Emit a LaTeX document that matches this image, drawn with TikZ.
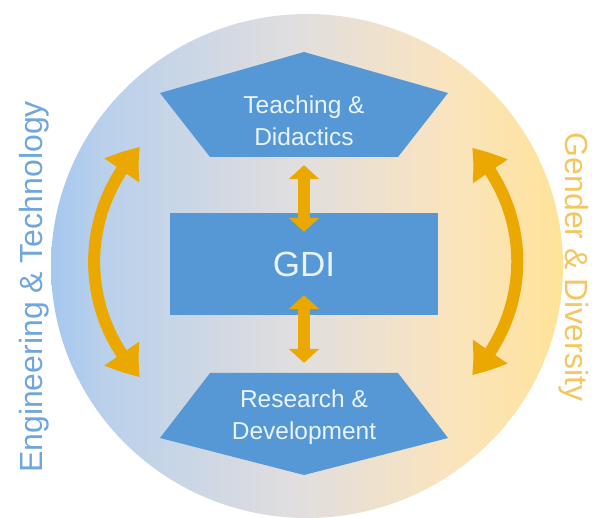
\documentclass[tikz,border=0pt]{standalone}
\usepackage{fontspec}
\setmainfont{Liberation Sans}
\usetikzlibrary{arrows.meta,bending}
\definecolor{gdiblue}{RGB}{86,151,214}
\definecolor{gdigold}{RGB}{234,168,0}
\definecolor{gdilight}{RGB}{232,244,255}
\definecolor{labelblue}{RGB}{112,166,222}
\definecolor{labelsand}{RGB}{244,198,96}
% disc tint: blue on the left, grey in the middle, sand on the right
\pgfdeclarehorizontalshading{gdiring}{100bp}{%
    rgb(0bp)=(0.647,0.780,0.933); rgb(25bp)=(0.647,0.780,0.933);
    rgb(30bp)=(0.725,0.816,0.922); rgb(49bp)=(0.882,0.871,0.871);
    rgb(64bp)=(0.980,0.894,0.745); rgb(75bp)=(1,0.890,0.600);
    rgb(100bp)=(1,0.890,0.600)}
\tikzset{
    gdi diagram/.style = {x=1pt, y=-1pt},
    ring/.style        = {shading=gdiring},
    panel/.style       = {fill=gdiblue},
    field/.style       = {text=gdilight, align=center,
                          font=\fontsize{24.5}{32}\selectfont},
    core/.style        = {fill=gdiblue, text=gdilight,
                          minimum width=268pt, minimum height=102pt,
                          font=\fontsize{35}{42}\selectfont},
    vlink/.style       = {draw=gdigold, line width=12pt,
                          {Triangle[width=30pt,length=14pt]}-{Triangle[width=30pt,length=14pt]}},
    swing/.style       = {draw=gdigold, line width=12pt,
                          {Triangle[width=40pt,length=30pt,bend]}-{Triangle[width=40pt,length=30pt,bend]}},
    side/.style        = {inner sep=0pt, font=\fontsize{32}{36}\selectfont}
}

\begin{document}
\begin{tikzpicture}[gdi diagram]
\useasboundingbox (0,0) rectangle (592,518);

% ================= Background disc =================
\shade[ring] (307,266) ellipse [x radius=256, y radius=252];

% ================= Side themes =================
\node[side, text=labelblue, rotate=90] (eng) at (34,287) {Engineering \& Technology};
\node[side, text=labelsand, rotate=-90] (gender) at (574,267) {Gender \& Diversity};

\coordinate (etTop) at (140,147);
\coordinate (etBot) at (140,377);
\coordinate (gdTop) at (472,148);
\coordinate (gdBot) at (472,375);
\draw[swing] (etBot) to[bend left=43] (etTop);
\draw[swing] (gdBot) to[bend right=43] (gdTop);

% ================= Teaching, core and research blocks =================
\fill[panel] (304,52) -- (448,93) -- (398,157) -- (210,157) -- (160,93) -- cycle;
\node[field, minimum height=72pt] (teach) at (304,121) {Teaching \&\\Didactics};

\node[core] (gdi) at (304,264) {GDI};

\fill[panel] (210,373) -- (398,373) -- (448,438) -- (304,475) -- (160,438) -- cycle;
\node[field, minimum height=88pt] (research) at (304,417) {Research \&\\Development};

% ================= Links to the core =================
\draw[vlink] ([yshift=-8pt]teach.south) -- ([yshift=-19pt]gdi.north);
\draw[vlink] ([yshift=20pt]gdi.south) -- ([yshift=10pt]research.north);

\end{tikzpicture}
\end{document}
